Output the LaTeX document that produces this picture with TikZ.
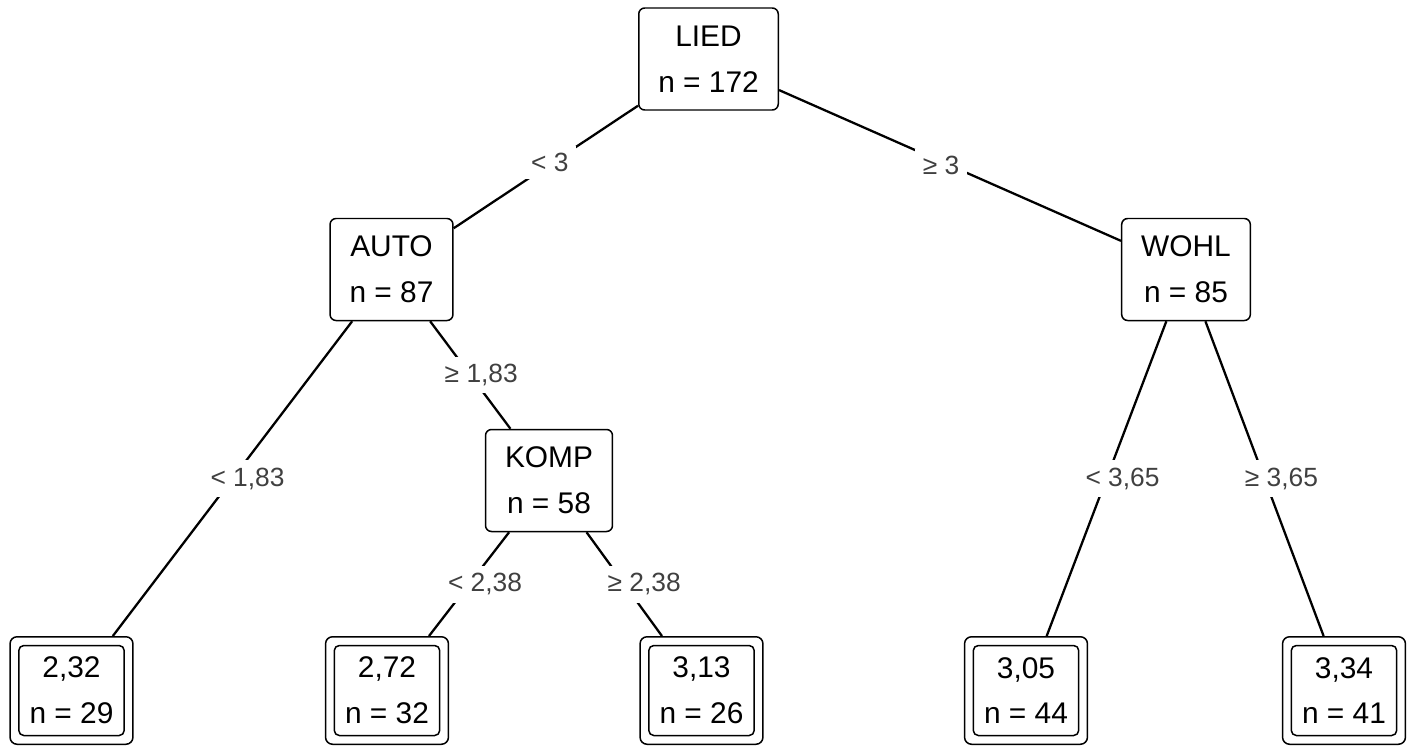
\documentclass[tikz,border=0pt]{standalone}
\usepackage{fontspec}
\setmainfont{Liberation Sans}
\usetikzlibrary{shapes,arrows}
\definecolor{cutgray}{HTML}{404040}
\tikzstyle{branch} = [line width=1.3pt]
\tikzstyle{box} = [rectangle, draw, line width=0.85pt, rounded corners=0.12cm, fill=white,
align=center, inner xsep=0.39cm, minimum height=2.04cm, font=\fontsize{17pt}{26pt}\selectfont]
\tikzstyle{leaf} = [box, rounded corners=0.14cm, minimum height=2.15cm]
\tikzstyle{cutlabel} = [fill=white, inner sep=0.15cm, text=cutgray, font=\fontsize{15pt}{18pt}\selectfont]

\begin{document}
\begin{tikzpicture}
				\useasboundingbox (0,0) rectangle (28.34,-15.04);
				% Place nodes
				\node (lied) [box] at (14.17,-1.18) {LIED\\n = 172};
				\node (auto) [box] at (7.83,-5.39) {AUTO\\n = 87};
				\node (wohl) [box] at (23.72,-5.39) {WOHL\\n = 85};
				\node (komp) [box] at (10.98,-9.61) {KOMP\\n = 58};
				\node (autolow) [leaf] at (1.43,-13.81) {2,32\\n = 29};
				\node (komplow) [leaf] at (7.74,-13.81) {2,72\\n = 32};
				\node (komphigh) [leaf] at (14.03,-13.81) {3,13\\n = 26};
				\node (wohllow) [leaf] at (20.52,-13.81) {3,05\\n = 44};
				\node (wohlhigh) [leaf] at (26.88,-13.81) {3,34\\n = 41};
				
				% Inner frame of the leaves
				\foreach \l in {autolow,komplow,komphigh,wohllow,wohlhigh}
					\draw[line width=0.85pt, rounded corners=0.1cm] ([shift={(0.19,0.19)}]\l.south west) rectangle ([shift={(-0.19,-0.19)}]\l.north east);
				
				% Draw edges
				\draw[branch] (lied) -- node[cutlabel, xshift=0.08cm, yshift=0.09cm] {< 3} (auto);
				\draw[branch] (lied) -- node[cutlabel, xshift=-0.18cm] {≥ 3} (wohl);
				\draw[branch] (auto) -- node[cutlabel, xshift=0.3cm] {< 1,83} (autolow);
				\draw[branch] (auto) -- node[cutlabel, xshift=0.22cm] {≥ 1,83} (komp);
				\draw[branch] (komp) -- node[cutlabel, xshift=0.32cm] {< 2,38} (komplow);
				\draw[branch] (komp) -- node[cutlabel, xshift=0.4cm] {≥ 2,38} (komphigh);
				\draw[branch] (wohl) -- node[cutlabel, xshift=0.32cm] {< 3,65} (wohllow);
				\draw[branch] (wohl) -- node[cutlabel, xshift=0.34cm] {≥ 3,65} (wohlhigh);
				
			\end{tikzpicture}
\end{document}
